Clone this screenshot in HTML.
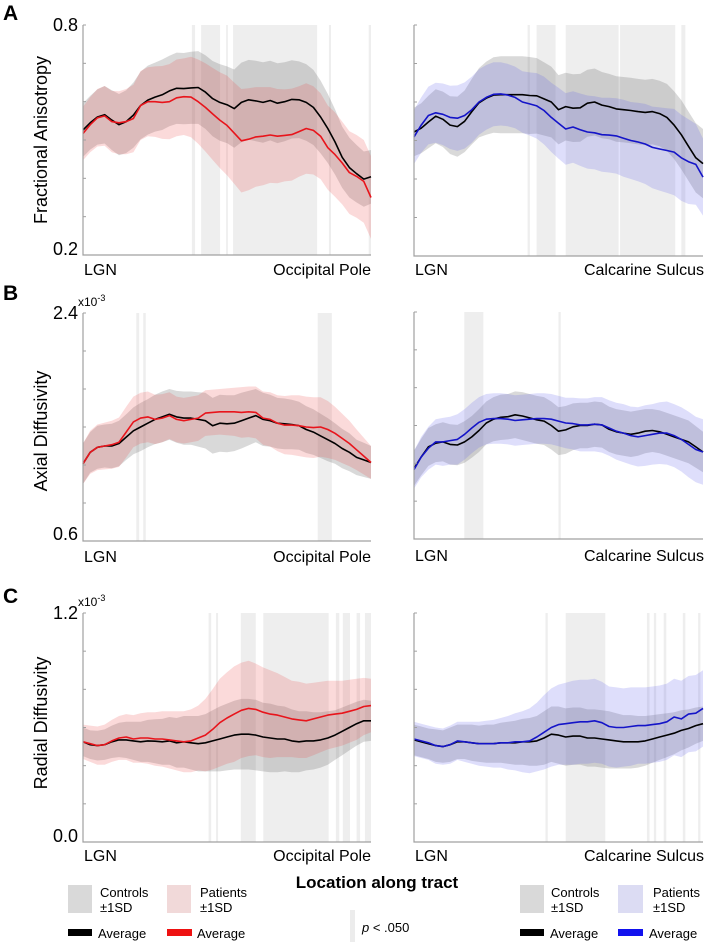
<!DOCTYPE html>
<html><head><meta charset="utf-8">
<style>
html,body{margin:0;padding:0;background:#fff;}
svg{display:block;font-family:"Liberation Sans",Arial,sans-serif;}
</style></head>
<body>
<svg id="fig" width="708" height="942" viewBox="0 0 708 942" xmlns="http://www.w3.org/2000/svg">
  <g id="marks"></g>
  <!-- panel letters -->
  <text x="3" y="20" font-size="21" font-weight="bold">A</text>
  <text x="3" y="300" font-size="21" font-weight="bold">B</text>
  <text x="3" y="603" font-size="21" font-weight="bold">C</text>
  <!-- y axis titles -->
  <text transform="translate(47,140) rotate(-90)" text-anchor="middle" font-size="18">Fractional Anisotropy</text>
  <text transform="translate(47,431) rotate(-90)" text-anchor="middle" font-size="18">Axial Diffusivity</text>
  <text transform="translate(47,723) rotate(-90)" text-anchor="middle" font-size="18">Radial Diffusivity</text>
  <!-- y tick labels -->
  <text x="78" y="31" text-anchor="end" font-size="18">0.8</text>
  <text x="78" y="255" text-anchor="end" font-size="18">0.2</text>
  <text x="78" y="319" text-anchor="end" font-size="18">2.4</text>
  <text x="78" y="540" text-anchor="end" font-size="18">0.6</text>
  <text x="78" y="619" text-anchor="end" font-size="18">1.2</text>
  <text x="78" y="842" text-anchor="end" font-size="18">0.0</text>
  <text x="78" y="306" font-size="12">x10<tspan dy="-5" font-size="9">-3</tspan></text>
  <text x="78" y="606" font-size="12">x10<tspan dy="-5" font-size="9">-3</tspan></text>
  <!-- x end labels -->
  <text x="84" y="275" font-size="16">LGN</text>
  <text x="371" y="275" text-anchor="end" font-size="16">Occipital Pole</text>
  <text x="415" y="275" font-size="16">LGN</text>
  <text x="704" y="275" text-anchor="end" font-size="16">Calcarine Sulcus</text>
  <text x="84" y="562" font-size="16">LGN</text>
  <text x="371" y="562" text-anchor="end" font-size="16">Occipital Pole</text>
  <text x="415" y="561" font-size="16">LGN</text>
  <text x="704" y="561" text-anchor="end" font-size="16">Calcarine Sulcus</text>
  <text x="84" y="861" font-size="16">LGN</text>
  <text x="371" y="861" text-anchor="end" font-size="16">Occipital Pole</text>
  <text x="415" y="861" font-size="16">LGN</text>
  <text x="704" y="861" text-anchor="end" font-size="16">Calcarine Sulcus</text>
  <!-- legend -->
  <g>
    <rect x="68" y="885" width="24" height="28" fill="#d9d9d9"/>
    <text x="100" y="897" font-size="13">Controls</text>
    <text x="100" y="912" font-size="13">±1SD</text>
    <rect x="167" y="885" width="24" height="28" fill="#f1d9d9"/>
    <text x="200" y="897" font-size="13">Patients</text>
    <text x="200" y="912" font-size="13">±1SD</text>
    <rect x="68" y="929" width="24" height="7" fill="#000"/>
    <text x="98" y="938" font-size="13">Average</text>
    <rect x="167" y="929" width="25" height="7" fill="#ee1111"/>
    <text x="197" y="938" font-size="13">Average</text>
  </g>
  <text x="377" y="888" text-anchor="middle" font-size="17" font-weight="bold">Location along tract</text>
  <rect x="350" y="910" width="5" height="32" fill="#ececec"/>
  <text x="362" y="932" font-size="13"><tspan font-style="italic">p</tspan> &lt; .050</text>
  <g>
    <rect x="520" y="885" width="24" height="28" fill="#d9d9d9"/>
    <text x="551" y="897" font-size="13">Controls</text>
    <text x="551" y="912" font-size="13">±1SD</text>
    <rect x="618" y="885" width="25" height="28" fill="#dcdcf3"/>
    <text x="653" y="897" font-size="13">Patients</text>
    <text x="653" y="912" font-size="13">±1SD</text>
    <rect x="520" y="929" width="24" height="7" fill="#000"/>
    <text x="550" y="938" font-size="13">Average</text>
    <rect x="618" y="929" width="25" height="7" fill="#1111ee"/>
    <text x="649" y="938" font-size="13">Average</text>
  </g>
</svg>
<script>
// ---- data (41 positions along tract, 0..100) ----
const aLeftCtrlMean=[.526,.545,.560,.566,.552,.540,.548,.565,.590,.604,.612,.618,.628,.635,.634,.636,.637,.625,.608,.598,.592,.582,.598,.605,.602,.598,.603,.596,.600,.606,.605,.598,.585,.560,.530,.495,.455,.428,.412,.398,.404];
const aLeftCtrlSd=[.07,.07,.072,.075,.078,.08,.082,.085,.088,.09,.09,.092,.092,.093,.093,.094,.095,.096,.098,.10,.10,.102,.104,.104,.105,.105,.104,.104,.103,.102,.10,.10,.098,.095,.09,.085,.08,.078,.075,.072,.07];
const aLeftPatMean=[.517,.540,.558,.563,.548,.545,.548,.556,.590,.600,.600,.598,.600,.610,.613,.612,.600,.585,.568,.552,.538,.518,.498,.502,.508,.510,.513,.510,.512,.514,.522,.530,.525,.510,.480,.462,.440,.415,.405,.392,.350];
const aLeftPatSd=[.07,.072,.075,.078,.08,.082,.085,.088,.09,.09,.092,.095,.098,.10,.10,.105,.11,.115,.12,.125,.13,.132,.135,.133,.13,.128,.125,.123,.12,.12,.118,.118,.115,.112,.11,.11,.108,.108,.108,.108,.108];
const aLeftSig=[[37.8,38.9],[41,47.6],[49.7,50.3],[52.1,81.3],[85.4,86.1],[99.2,100]];

const aRightCtrlMean=[.522,.532,.548,.563,.555,.540,.536,.550,.575,.598,.610,.618,.619,.619,.619,.619,.617,.616,.608,.600,.580,.588,.584,.585,.597,.600,.592,.588,.582,.580,.578,.575,.573,.575,.570,.560,.540,.515,.485,.455,.440];
const aRightCtrlSd=[.063,.065,.068,.07,.072,.075,.078,.08,.085,.09,.095,.098,.10,.10,.10,.10,.10,.098,.095,.092,.09,.088,.088,.088,.087,.087,.086,.085,.085,.085,.085,.085,.085,.085,.085,.087,.088,.09,.09,.09,.09];
const aRightPatMean=[.509,.540,.565,.572,.568,.560,.558,.565,.580,.600,.612,.620,.621,.618,.612,.600,.595,.590,.578,.560,.545,.530,.535,.528,.522,.520,.515,.514,.512,.506,.500,.496,.491,.482,.478,.474,.470,.455,.445,.438,.405];
const aRightPatSd=[.07,.072,.075,.078,.08,.082,.085,.086,.086,.085,.084,.083,.082,.081,.08,.08,.082,.085,.088,.09,.092,.093,.093,.094,.095,.095,.096,.097,.098,.10,.10,.102,.104,.106,.108,.11,.112,.112,.11,.105,.10];
const aRightSig=[[39.3,40.1],[42.4,49],[52.5,70.8],[71.3,90.4],[92.5,93.9]];

const bLeftCtrlMean=[1.21,1.30,1.34,1.35,1.35,1.37,1.42,1.47,1.50,1.53,1.56,1.58,1.60,1.58,1.57,1.57,1.56,1.55,1.51,1.53,1.525,1.53,1.55,1.57,1.59,1.56,1.55,1.53,1.525,1.52,1.51,1.48,1.46,1.43,1.40,1.37,1.33,1.30,1.26,1.24,1.22];
const bLeftCtrlSd=[.16,.16,.17,.17,.175,.18,.18,.185,.19,.19,.195,.2,.2,.205,.21,.21,.215,.22,.22,.225,.225,.22,.22,.215,.21,.21,.205,.2,.2,.195,.19,.185,.18,.175,.17,.16,.155,.15,.14,.135,.13];
const bLeftPatMean=[1.21,1.30,1.34,1.35,1.36,1.38,1.46,1.54,1.57,1.58,1.56,1.57,1.59,1.56,1.55,1.56,1.57,1.61,1.615,1.62,1.62,1.62,1.615,1.62,1.615,1.57,1.56,1.53,1.515,1.515,1.51,1.50,1.495,1.50,1.48,1.45,1.41,1.37,1.32,1.27,1.22];
const bLeftPatSd=[.16,.17,.18,.185,.19,.195,.2,.2,.2,.2,.195,.19,.185,.18,.18,.18,.18,.18,.18,.18,.185,.19,.2,.2,.205,.21,.215,.22,.23,.235,.24,.24,.24,.235,.225,.21,.195,.18,.16,.145,.13];
const bLeftSig=[[18.5,19.5],[20.9,21.8],[81.5,86.4]];

const bRightCtrlMean=[1.16,1.25,1.33,1.36,1.37,1.35,1.345,1.37,1.41,1.46,1.52,1.55,1.565,1.57,1.585,1.575,1.56,1.545,1.535,1.50,1.455,1.465,1.49,1.50,1.50,1.51,1.505,1.47,1.45,1.44,1.43,1.44,1.455,1.46,1.45,1.43,1.41,1.39,1.37,1.33,1.29];
const bRightCtrlSd=[.14,.145,.15,.15,.155,.16,.16,.165,.165,.17,.17,.175,.18,.18,.185,.19,.19,.19,.19,.19,.19,.19,.185,.18,.18,.18,.18,.18,.18,.18,.18,.18,.175,.17,.17,.17,.17,.17,.17,.165,.16];
const bRightPatMean=[1.15,1.25,1.32,1.37,1.37,1.38,1.39,1.43,1.48,1.525,1.55,1.555,1.555,1.55,1.54,1.545,1.55,1.555,1.555,1.55,1.535,1.52,1.515,1.505,1.505,1.51,1.505,1.48,1.455,1.44,1.42,1.41,1.42,1.43,1.44,1.44,1.42,1.39,1.35,1.31,1.29];
const bRightPatSd=[.15,.16,.17,.18,.19,.19,.2,.2,.2,.2,.2,.2,.2,.2,.2,.2,.2,.2,.2,.2,.2,.2,.205,.21,.21,.215,.22,.22,.225,.23,.23,.235,.24,.24,.245,.25,.25,.255,.26,.26,.26];
const bRightSig=[[17.4,24],[50,50.8]];

const cLeftCtrlMean=[.525,.51,.505,.51,.525,.535,.535,.53,.525,.53,.528,.525,.53,.52,.525,.52,.515,.52,.53,.54,.55,.56,.565,.565,.56,.55,.545,.54,.54,.53,.525,.53,.53,.535,.545,.56,.58,.60,.62,.635,.635];
const cLeftCtrlSd=[.075,.075,.078,.08,.085,.09,.095,.1,.105,.11,.115,.12,.125,.13,.135,.14,.145,.15,.16,.17,.175,.18,.185,.185,.185,.18,.18,.175,.17,.165,.16,.155,.15,.145,.14,.13,.125,.12,.115,.11,.105];
const cLeftPatMean=[.525,.515,.505,.51,.53,.545,.55,.54,.545,.545,.54,.54,.535,.53,.525,.53,.545,.56,.59,.625,.65,.67,.69,.70,.695,.68,.67,.665,.655,.645,.64,.635,.645,.655,.665,.67,.675,.685,.695,.71,.715];
const cLeftPatSd=[.09,.095,.1,.105,.11,.115,.12,.125,.13,.135,.14,.145,.15,.155,.16,.165,.17,.19,.21,.23,.24,.25,.25,.25,.24,.235,.23,.22,.21,.2,.2,.195,.19,.185,.18,.175,.17,.165,.16,.15,.14];
const cLeftSig=[[43.6,44.5],[46.2,46.9],[54.8,60],[62.6,85.3],[87.8,89],[90.2,92.7],[95,96.2],[97.9,100]];

const cRightCtrlMean=[.535,.525,.515,.505,.50,.51,.525,.525,.52,.515,.515,.515,.52,.52,.52,.525,.525,.53,.545,.565,.56,.55,.555,.555,.545,.545,.54,.535,.53,.525,.525,.525,.53,.54,.55,.56,.57,.585,.595,.61,.62];
const cRightCtrlSd=[.08,.08,.08,.085,.085,.09,.09,.09,.095,.095,.1,.1,.105,.11,.115,.12,.125,.13,.14,.145,.15,.15,.15,.15,.15,.15,.15,.15,.145,.14,.14,.135,.13,.125,.12,.115,.11,.105,.1,.095,.09];
const cRightPatMean=[.54,.53,.52,.505,.50,.51,.53,.525,.52,.515,.515,.515,.52,.52,.525,.525,.53,.55,.575,.60,.615,.62,.625,.63,.63,.635,.625,.605,.60,.60,.605,.61,.61,.615,.62,.63,.655,.645,.67,.675,.70];
const cRightPatSd=[.09,.09,.09,.095,.095,.1,.1,.105,.11,.115,.12,.125,.13,.14,.15,.16,.17,.18,.195,.205,.21,.215,.22,.22,.22,.22,.215,.21,.21,.205,.205,.2,.2,.2,.2,.2,.2,.2,.2,.2,.2];
const cRightSig=[[45.5,46.3],[52.5,66.2],[80.6,81.5],[83,83.8],[86.4,87.3],[93,93.9],[98.3,99.1]];

const NS='http://www.w3.org/2000/svg';
const marks=document.getElementById('marks');
const panels=[
 {id:'fa-left',x0:83,x1:371,y0:25,y1:255,min:.2,max:.8,cm:aLeftCtrlMean,cs:aLeftCtrlSd,pm:aLeftPatMean,ps:aLeftPatSd,sig:aLeftSig,col:'#e8141b',band:'rgba(235,70,70,0.2)'},
 {id:'fa-right',x0:414,x1:703,y0:25,y1:256,min:.2,max:.8,cm:aRightCtrlMean,cs:aRightCtrlSd,pm:aRightPatMean,ps:aRightPatSd,sig:aRightSig,col:'#1414c8',band:'rgba(90,90,235,0.2)'},
 {id:'ad-left',x0:83,x1:371,y0:313,y1:541,min:.6,max:2.4,cm:bLeftCtrlMean,cs:bLeftCtrlSd,pm:bLeftPatMean,ps:bLeftPatSd,sig:bLeftSig,col:'#e8141b',band:'rgba(235,70,70,0.2)'},
 {id:'ad-right',x0:414,x1:703,y0:312,y1:539,min:.6,max:2.4,cm:bRightCtrlMean,cs:bRightCtrlSd,pm:bRightPatMean,ps:bRightPatSd,sig:bRightSig,col:'#1414c8',band:'rgba(90,90,235,0.2)'},
 {id:'rd-left',x0:83,x1:371,y0:613,y1:842,min:0,max:1.2,cm:cLeftCtrlMean,cs:cLeftCtrlSd,pm:cLeftPatMean,ps:cLeftPatSd,sig:cLeftSig,col:'#e8141b',band:'rgba(235,70,70,0.2)'},
 {id:'rd-right',x0:414,x1:703,y0:613,y1:842,min:0,max:1.2,cm:cRightCtrlMean,cs:cRightCtrlSd,pm:cRightPatMean,ps:cRightPatSd,sig:cRightSig,col:'#1414c8',band:'rgba(90,90,235,0.2)'}
];
function mk(tag,attrs){const e=document.createElementNS(NS,tag);for(const k in attrs)e.setAttribute(k,attrs[k]);return e;}
panels.forEach(p=>{
  const n=p.cm.length;
  const xs=i=>p.x0+(p.x1-p.x0)*i/(n-1);
  const xf=f=>p.x0+(p.x1-p.x0)*f/100;
  const ys=v=>p.y1-(v-p.min)/(p.max-p.min)*(p.y1-p.y0);
  const g=mk('g',{});
  
  
  marks.appendChild(g);
  p.sig.forEach(s=>{
    const r=mk('rect',{x:xf(s[0]),y:p.y0,width:Math.max(1,xf(s[1])-xf(s[0])),height:p.y1-p.y0,fill:'rgba(0,0,0,0.065)'});
    
    
    g.appendChild(r);
  });
  function band(m,s,fill,name){
    let d='';
    for(let i=0;i<n;i++)d+=(i?'L':'M')+xs(i).toFixed(1)+','+ys(m[i]+s[i]).toFixed(1);
    for(let i=n-1;i>=0;i--)d+='L'+xs(i).toFixed(1)+','+ys(m[i]-s[i]).toFixed(1);
    const e=mk('path',{d:d+'Z',fill:fill});
    
    
    g.appendChild(e);
  }
  function line(m,col,name){
    let d='';
    for(let i=0;i<n;i++)d+=(i?'L':'M')+xs(i).toFixed(1)+','+ys(m[i]).toFixed(1);
    const e=mk('path',{d:d,fill:'none',stroke:col,'stroke-width':1.6,'stroke-linejoin':'round'});
    
    
    g.appendChild(e);
  }
  band(p.cm,p.cs,'rgba(120,120,120,0.28)','controls-sd-band');
  band(p.pm,p.ps,p.band,'patients-sd-band');
  line(p.cm,'#000','controls-average-line');
  line(p.pm,p.col,'patients-average-line');
  const ax=mk('path',{d:`M${p.x0},${p.y0}V${p.y1}H${p.x1}`,fill:'none',stroke:'#a0a0a0','stroke-width':1.2});
  
  
  g.appendChild(ax);
  for(let k=0;k<=6;k++){
    const y=p.y0+(p.y1-p.y0)*k/6;
    const t=mk('line',{x1:p.x0,x2:p.x0+3,y1:y,y2:y,stroke:'#a0a0a0','stroke-width':1});
    
    
    g.appendChild(t);
  }
});
</script>
</body></html>
